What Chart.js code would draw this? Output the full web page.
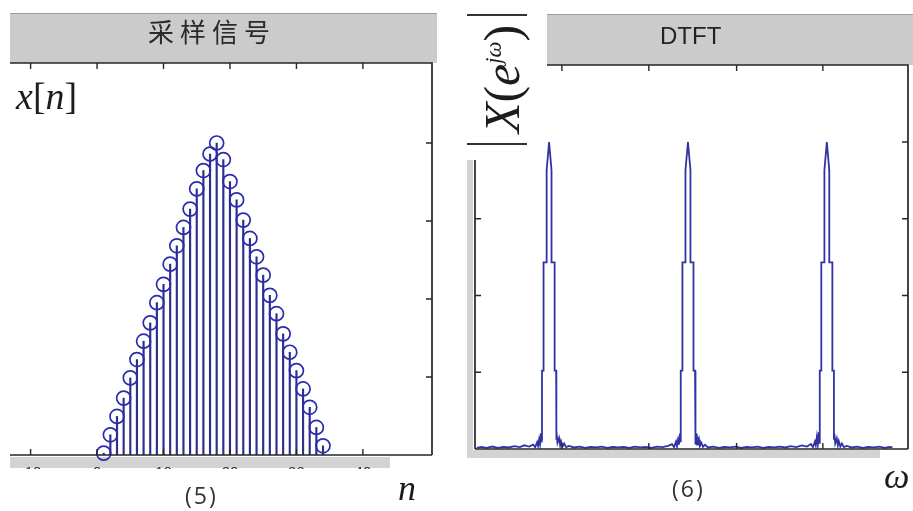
<!DOCTYPE html>
<html>
<head>
<meta charset="utf-8">
<script src="https://cdn.jsdelivr.net/npm/chart.js@4/dist/chart.umd.min.js"></script>
<style>
  html, body { margin: 0; padding: 0; background: #fff; }
  body { position: relative; width: 913px; height: 511px; overflow: hidden; }
  .abs { position: absolute; }
  .bar { background: #cbcbcb; border-top: 1px solid #9c9c9c; }
  .band { background: #d3d3d3; }
  .serif { font-family: 'Liberation Serif', 'DejaVu Serif', serif; font-style: italic; color: #1c1c1c; line-height: 1; white-space: nowrap; }
  .cap { font-family: 'Open Sans', 'Liberation Sans', sans-serif; color: #333; line-height: 1; letter-spacing: 2px; }
  canvas { position: absolute; top: 0; }
</style>
</head>
<body>
<!-- gray title bars and shadow bands -->
<div class="abs bar" style="left:10px; top:13px; width:427px; height:49px;"></div>
<div class="abs bar" style="left:547px; top:14px; width:366px; height:50px;"></div>
<div class="abs band" style="left:10px; top:457px; width:380px; height:11px;"></div>
<div class="abs band" style="left:468px; top:450px; width:412px; height:8px;"></div>
<div class="abs band" style="left:467px; top:160px; width:6px; height:298px;"></div>

<canvas id="stemChart" width="456" height="511" style="left:0;"></canvas>
<canvas id="dtftChart" width="457" height="511" style="left:456px;"></canvas>

<!-- titles and labels -->
<div class="abs" style="left:148px; top:16px; font: 26px 'Noto Sans CJK SC', sans-serif; letter-spacing:6px; color:#2a2a2a; line-height:30px;">采样信号</div>
<div class="abs" style="left:660px; top:23px; font: 24px 'Liberation Sans', Arial, sans-serif; color:#222; line-height:25px;">DTFT</div>

<div class="abs serif" style="left:16px; top:77px; font-size:38px;">x<span style="font-style:normal">[</span>n<span style="font-style:normal">]</span></div>
<div class="abs serif" style="left:398px; top:470px; font-size:36px;">n</div>
<div class="abs serif" style="left:884px; top:458px; font-size:36px;">ω</div>
<div class="abs cap" style="left:185px; top:484px; font-size:23px;">(5)</div>
<div class="abs cap" style="left:672px; top:477px; font-size:23px;">(6)</div>

<!-- |X(e^jω)| rotated -->
<div class="abs" style="left:467px; top:14px; width:60px; height:2px; background:#333;"></div>
<div class="abs" style="left:467px; top:143px; width:60px; height:2px; background:#333;"></div>
<div class="abs serif" style="left:502px; top:79px; font-size:50px; transform: translate(-50%, -50%) rotate(-90deg);"><span>X</span><span style="font-style:normal">(</span>e<sup style="font-size:0.45em; vertical-align: 0.8em;">jω</sup><span style="font-style:normal">)</span></div>

<script>
const stemN = [1, 2, 3, 4, 5, 6, 7, 8, 9, 10, 11, 12, 13, 14, 15, 16, 17,
               18, 19, 20, 21, 22, 23, 24, 25, 26, 27, 28, 29, 30, 31, 32, 33, 34];
const stemValues = [0.1, 1.1, 2.1, 3.1, 4.2, 5.2, 6.2, 7.2, 8.3, 9.3, 10.4, 11.4, 12.4, 13.4, 14.5, 15.5, 16.4,
                    17.0, 16.1, 14.9, 13.9, 12.8, 11.8, 10.8, 9.8, 8.7, 7.7, 6.6, 5.6, 4.6, 3.6, 2.6, 1.5, 0.5];
const stemTicksN = [-10, 0, 10, 20, 30, 40];
const stemTickLabels = ['-10', '0', '10', '20', '30', '40'];
const stemTicksY = [4.25, 8.5, 12.75, 17];

// ---- DTFT magnitude, [omega, |X|] ----
const dtftSamples = [
  [-9.55, 0.004], [-9.35, 0.007], [-9.10, 0.004], [-8.85, 0.008], [-8.60, 0.004], [-8.35, 0.007],
  [-8.10, 0.005], [-7.85, 0.009], [-7.60, 0.006], [-7.40, 0.012], [-7.18, 0.008],
  // peak at -2pi
  [-7.00, 0.014], [-6.91, 0.006], [-6.82, 0.022], [-6.78, 0.010], [-6.73, 0.032], [-6.69, 0.015],
  [-6.64, 0.052], [-6.62, 0.022], [-6.60, 0.030], [-6.60, 0.255], [-6.53, 0.255], [-6.53, 0.608],
  [-6.39, 0.608], [-6.39, 0.908], [-6.28, 1.000], [-6.17, 0.908], [-6.17, 0.608], [-6.03, 0.608],
  [-6.03, 0.255], [-5.96, 0.255], [-5.96, 0.030], [-5.94, 0.058], [-5.90, 0.020], [-5.83, 0.036],
  [-5.78, 0.012], [-5.74, 0.026], [-5.67, 0.008], [-5.60, 0.018], [-5.51, 0.006], [-5.38, 0.010],
  [-5.15, 0.005], [-4.90, 0.008], [-4.65, 0.004], [-4.40, 0.007], [-4.15, 0.005], [-3.90, 0.008],
  [-3.65, 0.004], [-3.40, 0.007], [-3.15, 0.005], [-2.90, 0.007], [-2.65, 0.004], [-2.40, 0.008],
  [-2.15, 0.005], [-1.90, 0.007], [-1.65, 0.004], [-1.40, 0.008], [-1.15, 0.006], [-0.90, 0.010],
  // peak at 0
  [-0.72, 0.016], [-0.63, 0.006], [-0.54, 0.024], [-0.50, 0.010], [-0.45, 0.030], [-0.41, 0.014],
  [-0.36, 0.050], [-0.34, 0.022], [-0.32, 0.030], [-0.32, 0.255], [-0.25, 0.255], [-0.25, 0.608],
  [-0.113, 0.608], [-0.113, 0.908], [0.00, 1.000], [0.113, 0.908], [0.113, 0.608], [0.25, 0.608],
  [0.25, 0.255], [0.32, 0.255], [0.32, 0.030], [0.34, 0.055], [0.36, 0.015], [0.38, 0.050],
  [0.40, 0.012], [0.43, 0.040], [0.45, 0.012], [0.50, 0.030], [0.54, 0.010], [0.61, 0.020],
  [0.68, 0.007], [0.77, 0.014], [0.90, 0.005],
  [1.15, 0.008], [1.40, 0.004], [1.65, 0.007], [1.90, 0.005], [2.15, 0.008], [2.40, 0.004],
  [2.65, 0.007], [2.90, 0.005], [3.15, 0.008], [3.40, 0.004], [3.65, 0.007], [3.90, 0.005],
  [4.15, 0.008], [4.40, 0.005], [4.65, 0.009], [4.90, 0.006], [5.15, 0.012], [5.38, 0.008],
  // peak at 2pi
  [5.56, 0.016], [5.65, 0.006], [5.74, 0.024], [5.78, 0.012], [5.83, 0.040], [5.87, 0.015],
  [5.92, 0.055], [5.94, 0.020], [5.96, 0.030], [5.96, 0.255], [6.03, 0.255], [6.03, 0.608],
  [6.17, 0.608], [6.17, 0.908], [6.28, 1.000], [6.39, 0.908], [6.39, 0.608], [6.53, 0.608],
  [6.53, 0.255], [6.60, 0.255], [6.60, 0.030], [6.62, 0.050], [6.66, 0.018], [6.73, 0.035],
  [6.78, 0.012], [6.82, 0.026], [6.89, 0.008], [6.96, 0.018], [7.05, 0.006], [7.18, 0.010],
  [7.40, 0.005], [7.65, 0.008], [7.90, 0.004], [8.15, 0.007], [8.40, 0.005], [8.65, 0.008],
  [8.90, 0.004], [9.10, 0.007], [9.25, 0.005]
];
const dtftTicksW = [-5.7, -1.77, 2.2, 6.1];
const dtftTicksMag = [0.25, 0.5, 0.75, 1];

// Frame with inward ticks, drawn from the chart's own scales
const framePlugin = {
  id: 'frame',
  afterDatasetsDraw(chart, args, opts) {
    const { ctx, chartArea: a, scales: { x, y } } = chart;
    const topStart = opts.topStart != null ? opts.topStart : a.left;
    ctx.save();
    ctx.strokeStyle = '#262626';
    ctx.lineWidth = 1.7;
    ctx.beginPath();
    ctx.moveTo(topStart, a.top); ctx.lineTo(a.right, a.top);
    ctx.lineTo(a.right, a.bottom);
    ctx.moveTo(a.left, a.bottom); ctx.lineTo(a.right, a.bottom);
    if (opts.leftFrom != null) {
      ctx.moveTo(a.left, opts.leftFrom); ctx.lineTo(a.left, a.bottom);
    }
    ctx.stroke();

    ctx.lineWidth = 1.4;
    ctx.beginPath();
    opts.xTicks.forEach(v => {
      const px = x.getPixelForValue(v);
      if (px > topStart + 2) { ctx.moveTo(px, a.top); ctx.lineTo(px, a.top + 6); }
      ctx.moveTo(px, a.bottom); ctx.lineTo(px, a.bottom - 6);
    });
    opts.yTicks.forEach(v => {
      const py = y.getPixelForValue(v);
      ctx.moveTo(a.right, py); ctx.lineTo(a.right - 6, py);
      if (opts.leftFrom != null && py > opts.leftFrom + 2) {
        ctx.moveTo(a.left, py); ctx.lineTo(a.left + 6, py);
      }
    });
    ctx.stroke();

    // tick labels, cut off just below the gray band as in the source
    if (opts.xLabels) {
      ctx.beginPath();
      ctx.rect(a.left, a.bottom + 2, a.right - a.left, 12);
      ctx.clip();
      ctx.fillStyle = '#333';
      ctx.font = '15px "Liberation Sans", Arial, sans-serif';
      ctx.textAlign = 'center';
      ctx.textBaseline = 'top';
      opts.xTicks.forEach((v, i) => {
        ctx.fillText(opts.xLabels[i], x.getPixelForValue(v), a.bottom + 10);
      });
    }
    ctx.restore();
  }
};

const baseOptions = {
  responsive: false,
  animation: false,
  devicePixelRatio: 1,
  events: [],
  plugins: { legend: { display: false }, tooltip: { enabled: false } }
};

new Chart(document.getElementById('stemChart'), {
  type: 'scatter',
  data: {
    datasets: [
      {
        type: 'bar',
        data: stemN.map((n, i) => ({ x: n, y: stemValues[i] })),
        backgroundColor: '#2e2e8c',
        borderWidth: 0,
        barThickness: 1.5,
        order: 2
      },
      {
        type: 'scatter',
        data: stemN.map((n, i) => ({ x: n, y: stemValues[i] })),
        showLine: false,
        pointStyle: 'circle',
        pointRadius: 7,
        pointBorderWidth: 1.7,
        pointBorderColor: '#2b2bb0',
        pointBackgroundColor: 'rgba(255,255,255,0)',
        clip: false,
        order: 1
      }
    ]
  },
  options: {
    ...baseOptions,
    layout: { padding: { left: 10, top: 63, right: 24, bottom: 56 } },
    scales: {
      x: { type: 'linear', min: -13.1, max: 50.4, offset: false, display: false },
      y: { type: 'linear', min: 0, max: 21.36, display: false }
    },
    plugins: {
      ...baseOptions.plugins,
      frame: { xTicks: stemTicksN, yTicks: stemTicksY, xLabels: stemTickLabels }
    }
  },
  plugins: [framePlugin]
});

new Chart(document.getElementById('dtftChart'), {
  type: 'scatter',
  data: {
    datasets: [{
      data: dtftSamples.map(p => ({ x: p[0], y: p[1] })),
      showLine: true,
      pointRadius: 0,
      borderColor: '#3232a6',
      borderWidth: 1.8,
      tension: 0
    }]
  },
  options: {
    ...baseOptions,
    layout: { padding: { left: 19, top: 65, right: 5, bottom: 62 } },
    scales: {
      x: { type: 'linear', min: -9.63, max: 9.95, display: false },
      y: { type: 'linear', min: 0, max: 1.2508, display: false }
    },
    plugins: {
      ...baseOptions.plugins,
      frame: { xTicks: dtftTicksW, yTicks: dtftTicksMag, topStart: 91, leftFrom: 160 }
    }
  },
  plugins: [framePlugin]
});
</script>
</body>
</html>
